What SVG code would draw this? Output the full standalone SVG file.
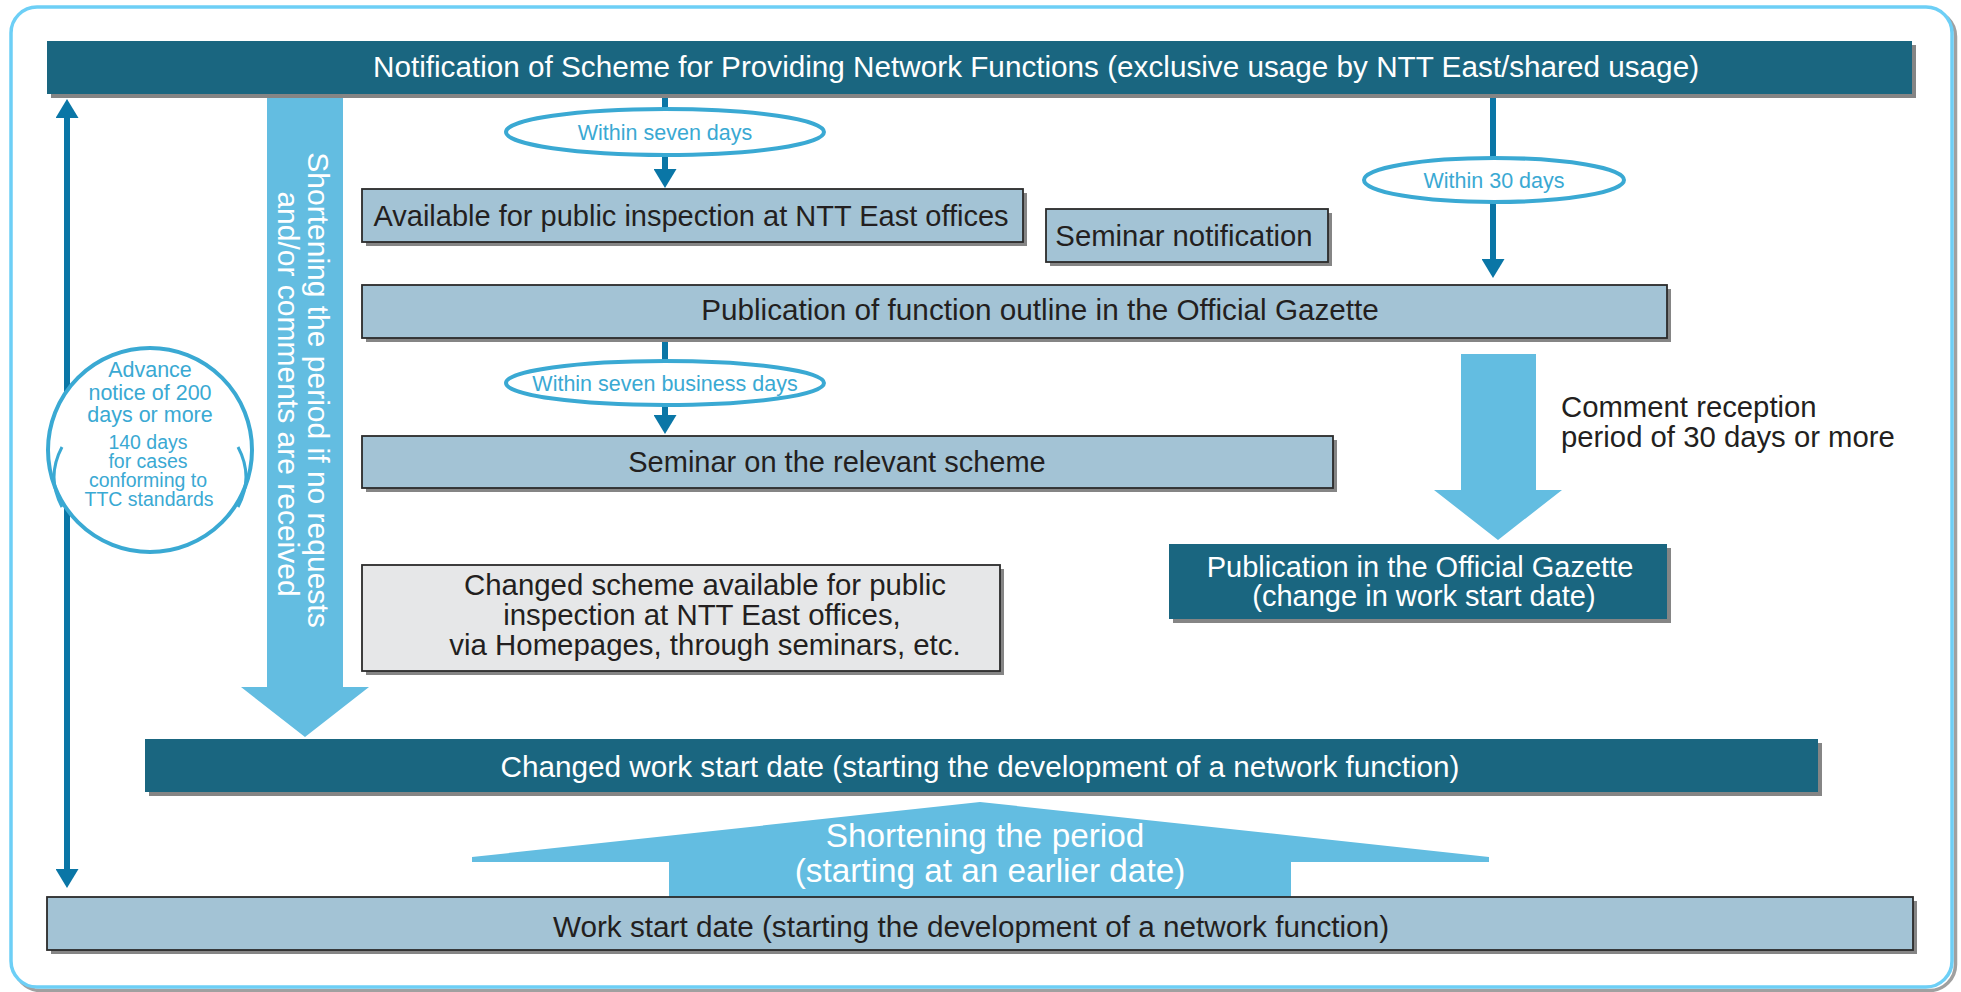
<svg xmlns="http://www.w3.org/2000/svg" width="1961" height="992" viewBox="0 0 1961 992">
<defs>
<style>
text{font-family:"Liberation Sans",Arial,Helvetica,sans-serif}
.t29{font-size:29px}
.t30{font-size:29.7px}
.mid{text-anchor:middle}
.dark{fill:#1a6680}
.light{fill:#a3c3d5;stroke:#2b2b2b;stroke-width:1.8}
.gray{fill:#e6e7e8;stroke:#2b2b2b;stroke-width:1.8}
.shadow{fill:#858585}
.wt{fill:#ffffff}
.bt{fill:#231f20}
.conn{stroke:#0a76a6;stroke-width:6;fill:none}
.oval{fill:#ffffff;stroke:#3aa9d3;stroke-width:4}
.ot{fill:#3aa9d3;font-size:21.5px}
.ct{fill:#3aa9d3;font-size:19.5px}
.big{fill:#63bde1}
</style>
<marker id="ah" markerUnits="userSpaceOnUse" markerWidth="20" markerHeight="23" refX="5" refY="11.5" orient="auto-start-reverse">
<path d="M0,0 L19,11.5 L0,23 Z" fill="#0a76a6"/>
</marker>
</defs>
<rect x="0" y="0" width="1961" height="992" fill="#ffffff"/>
<g id="frame">
<rect x="14.5" y="10.5" width="1941" height="980" rx="26" fill="none" stroke="#a0a0a0" stroke-width="3.5"/>
<rect x="11" y="7" width="1941" height="980" rx="26" fill="#ffffff" stroke="#6dcff6" stroke-width="3.5"/>
</g>
<g id="connectors">
<line class="conn" x1="67" y1="113" x2="67" y2="874" marker-start="url(#ah)" marker-end="url(#ah)"/>
<line class="conn" x1="665" y1="96" x2="665" y2="174" marker-end="url(#ah)"/>
<line class="conn" x1="665" y1="338" x2="665" y2="420" marker-end="url(#ah)"/>
<line class="conn" x1="1493" y1="96" x2="1493" y2="264" marker-end="url(#ah)"/>
</g>
<g id="notification-bar">
<rect class="shadow" x="51" y="45" width="1865" height="53"/>
<rect class="dark" x="47" y="41" width="1865" height="53"/>
<text class="t30 wt mid" x="1036" y="77">Notification of Scheme for Providing Network Functions (exclusive usage by NTT East/shared usage)</text>
</g>
<g id="shortening-arrow-vertical">
<polygon class="big" points="267,98 343,98 343,687 369,687 305,737 241,687 267,687"/>
<text class="wt mid" style="font-size:30px" transform="translate(308,390) rotate(90)">Shortening the period if no requests</text>
<text class="wt mid" style="font-size:30px" transform="translate(278,394) rotate(90)">and/or comments are received</text>
</g>
<g id="label-within-seven-days">
<ellipse class="oval" cx="665" cy="132" rx="159" ry="23"/>
<text class="ot mid" x="665" y="139.5">Within seven days</text>
</g>
<g id="label-within-30-days">
<ellipse class="oval" cx="1494" cy="180" rx="130" ry="22"/>
<text class="ot mid" x="1494" y="187.5">Within 30 days</text>
</g>
<g id="label-within-seven-business-days">
<ellipse class="oval" cx="665" cy="383" rx="159" ry="22"/>
<text class="ot mid" x="665" y="390.5">Within seven business days</text>
</g>
<g id="advance-notice">
<circle class="oval" cx="150" cy="450" r="102"/>
<path d="M62,447 Q46,477 62,507" fill="none" stroke="#3aa9d3" stroke-width="3"/>
<path d="M238,447 Q254,477 238,507" fill="none" stroke="#3aa9d3" stroke-width="3"/>
<text class="ot mid" x="150" y="377">Advance</text>
<text class="ot mid" x="150" y="400">notice of 200</text>
<text class="ot mid" x="150" y="422">days or more</text>
<text class="ct mid" x="148" y="449">140 days</text>
<text class="ct mid" x="148" y="468">for cases</text>
<text class="ct mid" x="148" y="487">conforming to</text>
<text class="ct mid" x="149" y="506">TTC standards</text>
</g>
<g id="public-inspection">
<rect class="shadow" x="366" y="193" width="661" height="53"/>
<rect class="light" x="362" y="189" width="661" height="53"/>
<text class="t29 bt mid" x="691" y="226">Available for public inspection at NTT East offices</text>
</g>
<g id="seminar-notification">
<rect class="shadow" x="1050" y="213" width="282" height="53"/>
<rect class="light" x="1046" y="209" width="282" height="53"/>
<text class="bt mid" style="font-size:29.3px" x="1184" y="246">Seminar notification</text>
</g>
<g id="function-outline">
<rect class="shadow" x="366" y="289" width="1305" height="53"/>
<rect class="light" x="362" y="285" width="1305" height="53"/>
<text class="t30 bt mid" x="1040" y="320">Publication of function outline in the Official Gazette</text>
</g>
<g id="seminar-scheme">
<rect class="shadow" x="366" y="440" width="971" height="52"/>
<rect class="light" x="362" y="436" width="971" height="52"/>
<text class="t29 bt mid" x="837" y="472">Seminar on the relevant scheme</text>
</g>
<g id="changed-scheme">
<rect class="shadow" x="366" y="569" width="638" height="106"/>
<rect class="gray" x="362" y="565" width="638" height="106"/>
<text class="bt mid" style="font-size:29.4px" x="705" y="595">Changed scheme available for public</text>
<text class="bt mid" style="font-size:29.4px" x="702" y="625">inspection at NTT East offices,</text>
<text class="bt mid" style="font-size:29.4px" x="705" y="655">via Homepages, through seminars, etc.</text>
</g>
<g id="comment-period">
<polygon class="big" points="1461,354 1536,354 1536,490 1562,490 1498,540 1434,490 1461,490"/>
<text class="bt" style="font-size:29.3px" x="1561" y="417">Comment reception</text>
<text class="bt" style="font-size:29.3px" x="1561" y="447">period of 30 days or more</text>
</g>
<g id="gazette-publication">
<rect class="shadow" x="1173" y="548" width="498" height="75"/>
<rect class="dark" x="1169" y="544" width="498" height="75"/>
<text class="t29 wt mid" x="1420" y="577">Publication in the Official Gazette</text>
<text class="t29 wt mid" x="1424" y="606">(change in work start date)</text>
</g>
<g id="changed-work-start">
<rect class="shadow" x="149" y="743" width="1673" height="53"/>
<rect class="dark" x="145" y="739" width="1673" height="53"/>
<text class="t30 wt mid" x="980" y="777">Changed work start date (starting the development of a network function)</text>
</g>
<g id="shortening-arrow-up">
<polygon class="big" points="980,802 1489,857 1489,862 1291,862 1291,897 669,897 669,862 472,862 472,857"/>
<text class="wt mid" style="font-size:33.3px" x="985" y="847">Shortening the period</text>
<text class="wt mid" style="font-size:33.3px" x="990" y="882">(starting at an earlier date)</text>
</g>
<g id="work-start">
<rect class="shadow" x="51" y="901" width="1866" height="53"/>
<rect class="light" x="47" y="897" width="1866" height="53"/>
<text class="t30 bt mid" x="971" y="937">Work start date (starting the development of a network function)</text>
</g>
</svg>
